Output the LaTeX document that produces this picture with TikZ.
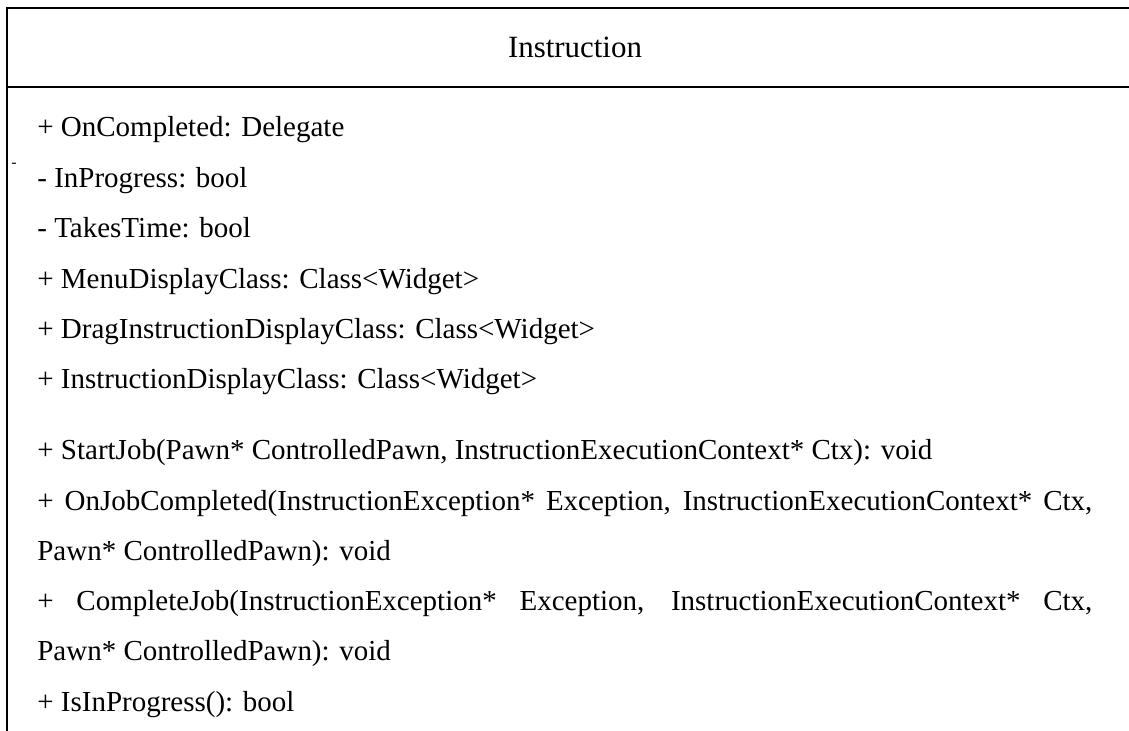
\documentclass[tikz,border=0pt]{standalone}
\usepackage{fontspec}
\setmainfont{Liberation Serif}
\usetikzlibrary{positioning}

\begin{document}
\begin{tikzpicture}[
    frame/.style={line width=1.6pt, black},
    member/.style={anchor=base west, inner sep=0pt,
                   font=\fontsize{16.5}{19}\selectfont},
    cname/.style={anchor=base, inner sep=0pt,
                  font=\fontsize{17.6}{21}\selectfont},
]
\useasboundingbox (0,0) rectangle (22.58,-14.62);

% Class frame (cut off at right and bottom)
\coordinate (tl) at (0.14,-0.16);
\coordinate (tr) at (22.58,-0.16);
\coordinate (bl) at (0.14,-14.62);
\coordinate (sl) at (0.14,-1.74);
\coordinate (sr) at (22.58,-1.74);
\draw[frame] (bl) -- (tl) -- (tr);
\draw[frame] (sl) -- (sr);

% Class name
\node[cname] (name) at (11.5,-1.16) {Instruction};

% Attributes
\foreach \txt [count=\i] in {%
    {+ OnCompleted: Delegate},
    {- InProgress: bool},
    {- TakesTime: bool},
    {+ MenuDisplayClass: Class<Widget>},
    {+ DragInstructionDisplayClass: Class<Widget>},
    {+ InstructionDisplayClass: Class<Widget>}}
  \node[member] (attr\i) at (0.74,{-2.74-1.008*(\i-1)}) {\txt};

% Stray mark left of the attributes
\node[inner sep=0pt, font=\fontsize{9}{10}\selectfont] (mark) at (0.28,-3.30) {-};

% Methods (two of them wrap, justified)
\foreach \txt [count=\i] in {%
    {+ StartJob(Pawn* ControlledPawn, InstructionExecutionContext* Ctx): void},
    {\makebox[21.1cm][s]{+ OnJobCompleted(InstructionException* Exception, InstructionExecutionContext* Ctx,}},
    {Pawn* ControlledPawn): void},
    {\makebox[21.1cm][s]{+ CompleteJob(InstructionException* Exception, InstructionExecutionContext* Ctx,}},
    {Pawn* ControlledPawn): void},
    {+ IsInProgress(): bool}}
  \node[member] (meth\i) at (0.74,{-9.2-1.004*(\i-1)}) {\txt};
\end{tikzpicture}
\end{document}
